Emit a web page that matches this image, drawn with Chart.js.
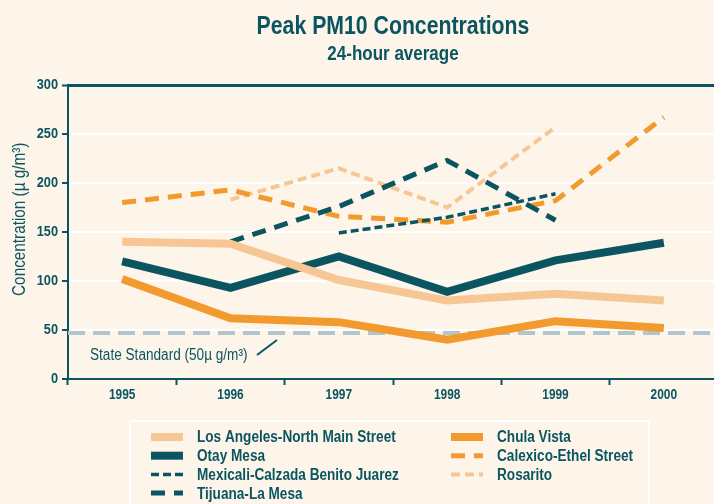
<!DOCTYPE html>
<html>
<head>
<meta charset="utf-8">
<script src="https://cdn.jsdelivr.net/npm/chart.js@4"></script>
<style>
  html, body { margin: 0; padding: 0; background: #fdf5e9; }
  #wrap { width: 714px; height: 504px; overflow: hidden; }
</style>
</head>
<body>
<div id="wrap"><canvas id="pm10" width="720" height="504"></canvas></div>
<script>
// values
const years = ['1995', '1996', '1997', '1998', '1999', '2000'];
const losAngeles = [140, 138, 101, 80, 87, 80];
const otayMesa = [120, 93, 125, 89, 121, 139];
const mexicali = [null, null, 149, 165, 189, null];
const tijuana = [null, 140, 176, 223, 162, null];
const chulaVista = [102, 62, 58, 40, 59, 52];
const calexico = [180, 193, 166, 160, 182, 267];
const rosarito = [null, 183, 215, 175, 257, null];
const stateStandard = 47;
const yTicks = [0, 50, 100, 150, 200, 250, 300];

const TEAL = '#0b5561';
const ORANGE = '#f39a2f';
const PEACH = '#f6c794';
const STD_GREY = '#b3c4cd';
const FONT = "'Liberation Sans', Arial, sans-serif";
const SQUEEZE = 0.85; // the original uses a condensed face

const canvas = document.getElementById('pm10');
const ctx2d = canvas.getContext('2d');
// narrow every label horizontally around its anchor point
const rawFillText = ctx2d.fillText;
ctx2d.fillText = function(text, x, y) {
    this.save();
    this.translate(x, y);
    this.scale(SQUEEZE, 1);
    rawFillText.call(this, text, 0, 0);
    this.restore();
};

function line(label, data, color, width, dash) {
    return {
        label: label,
        data: data,
        borderColor: color,
        backgroundColor: color,
        borderWidth: width,
        borderDash: dash || [],
        borderCapStyle: 'butt',
        borderJoinStyle: 'miter',
        pointRadius: 0,
        tension: 0,
        fill: false
    };
}

// state standard line + note, drawn under the data lines
const standardLine = {
    id: 'standardLine',
    beforeDatasetsDraw: function(chart) {
        const ctx = chart.ctx;
        const area = chart.chartArea;
        const y = chart.scales.y.getPixelForValue(stateStandard);
        ctx.save();
        ctx.strokeStyle = STD_GREY;
        ctx.lineWidth = 4;
        ctx.setLineDash([17, 8]);
        ctx.beginPath();
        ctx.moveTo(area.left, y);
        ctx.lineTo(area.right, y);
        ctx.stroke();
        ctx.setLineDash([]);
        ctx.fillStyle = TEAL;
        ctx.font = '16px ' + FONT;
        ctx.textBaseline = 'middle';
        ctx.textAlign = 'left';
        ctx.fillText('State Standard (50\u00b5 g/m\u00b3)', 90, y + 23);
        ctx.strokeStyle = TEAL;
        ctx.lineWidth = 2;
        ctx.beginPath();
        ctx.moveTo(257, y + 22);
        ctx.lineTo(277, y + 7);
        ctx.stroke();
        ctx.restore();
    }
};

// two-column legend in a white frame below the axis
const boxLegend = {
    id: 'boxLegend',
    afterDraw: function(chart) {
        const ctx = chart.ctx;
        ctx.save();
        ctx.strokeStyle = '#ffffff';
        ctx.lineWidth = 2;
        ctx.strokeRect(130, 421, 519, 100);
        ctx.font = 'bold 16px ' + FONT;
        ctx.textBaseline = 'middle';
        ctx.textAlign = 'left';
        chart.data.datasets.forEach(function(ds, i) {
            const col = i < 4 ? 0 : 1;
            const row = i < 4 ? i : i - 4;
            const x = col === 0 ? 151 : 451;
            const y = 437 + row * 18.7;
            ctx.strokeStyle = ds.borderColor;
            ctx.lineWidth = ds.borderWidth;
            ctx.lineCap = 'butt';
            ctx.setLineDash(ds.borderDash);
            ctx.beginPath();
            ctx.moveTo(x, y);
            ctx.lineTo(x + 32, y);
            ctx.stroke();
            ctx.setLineDash([]);
            ctx.fillStyle = TEAL;
            ctx.fillText(ds.label, x + 46, y + 1);
        });
        ctx.restore();
    }
};

new Chart(ctx2d, {
    type: 'line',
    data: {
        labels: years,
        datasets: [
            line('Los Angeles-North Main Street', losAngeles, PEACH, 8),
            line('Otay Mesa', otayMesa, TEAL, 8),
            line('Mexicali-Calzada Benito Juarez', mexicali, TEAL, 3.5, [8, 4]),
            line('Tijuana-La Mesa', tijuana, TEAL, 5, [14, 9]),
            line('Chula Vista', chulaVista, ORANGE, 8),
            line('Calexico-Ethel Street', calexico, ORANGE, 5, [14, 9]),
            line('Rosarito', rosarito, PEACH, 4, [9, 5])
        ]
    },
    options: {
        responsive: false,
        animation: false,
        events: [],
        layout: { padding: { left: 0, right: 2, top: 0, bottom: 100 } },
        plugins: {
            legend: { display: false },
            tooltip: { enabled: false },
            title: {
                display: true,
                fullSize: false,
                text: 'Peak PM10 Concentrations',
                color: TEAL,
                font: { family: FONT, size: 25, weight: 'bold' },
                padding: { top: 12, bottom: 0 }
            },
            subtitle: {
                display: true,
                fullSize: false,
                text: '24-hour average',
                color: TEAL,
                font: { family: FONT, size: 20, weight: 'bold' },
                padding: { top: 0, bottom: 19 }
            }
        },
        scales: {
            x: {
                offset: true,
                grid: {
                    offset: true,
                    drawOnChartArea: false,
                    drawTicks: true,
                    tickLength: 6,
                    tickColor: TEAL,
                    tickWidth: 2
                },
                border: { display: true, color: TEAL, width: 2 },
                ticks: {
                    color: TEAL,
                    padding: 2,
                    maxRotation: 0,
                    font: { family: FONT, size: 14, weight: 'bold' }
                },
                afterFit: function(scale) { scale.height = 25; }
            },
            y: {
                min: 0,
                max: 300,
                afterBuildTicks: function(scale) {
                    scale.ticks = yTicks.map(function(v) { return { value: v }; });
                },
                grid: {
                    color: function(c) { return c.tick && c.tick.value === 300 ? TEAL : '#ffffff'; },
                    lineWidth: function(c) { return c.tick && c.tick.value === 300 ? 3 : 2; },
                    tickColor: TEAL,
                    tickWidth: 2,
                    tickLength: 6
                },
                border: { display: true, color: TEAL, width: 2 },
                ticks: {
                    color: TEAL,
                    padding: 4,
                    font: { family: FONT, size: 15, weight: 'bold' }
                },
                title: {
                    display: true,
                    // leading spaces lift the title a little above the axis centre, as in the original
                    text: '      Concentration (\u00b5 g/m\u00b3)',
                    color: TEAL,
                    padding: { top: 9, bottom: 0 },
                    font: { family: FONT, size: 18 }
                },
                afterFit: function(scale) { scale.width = 68; }
            }
        }
    },
    plugins: [standardLine, boxLegend]
});
</script>
</body>
</html>
